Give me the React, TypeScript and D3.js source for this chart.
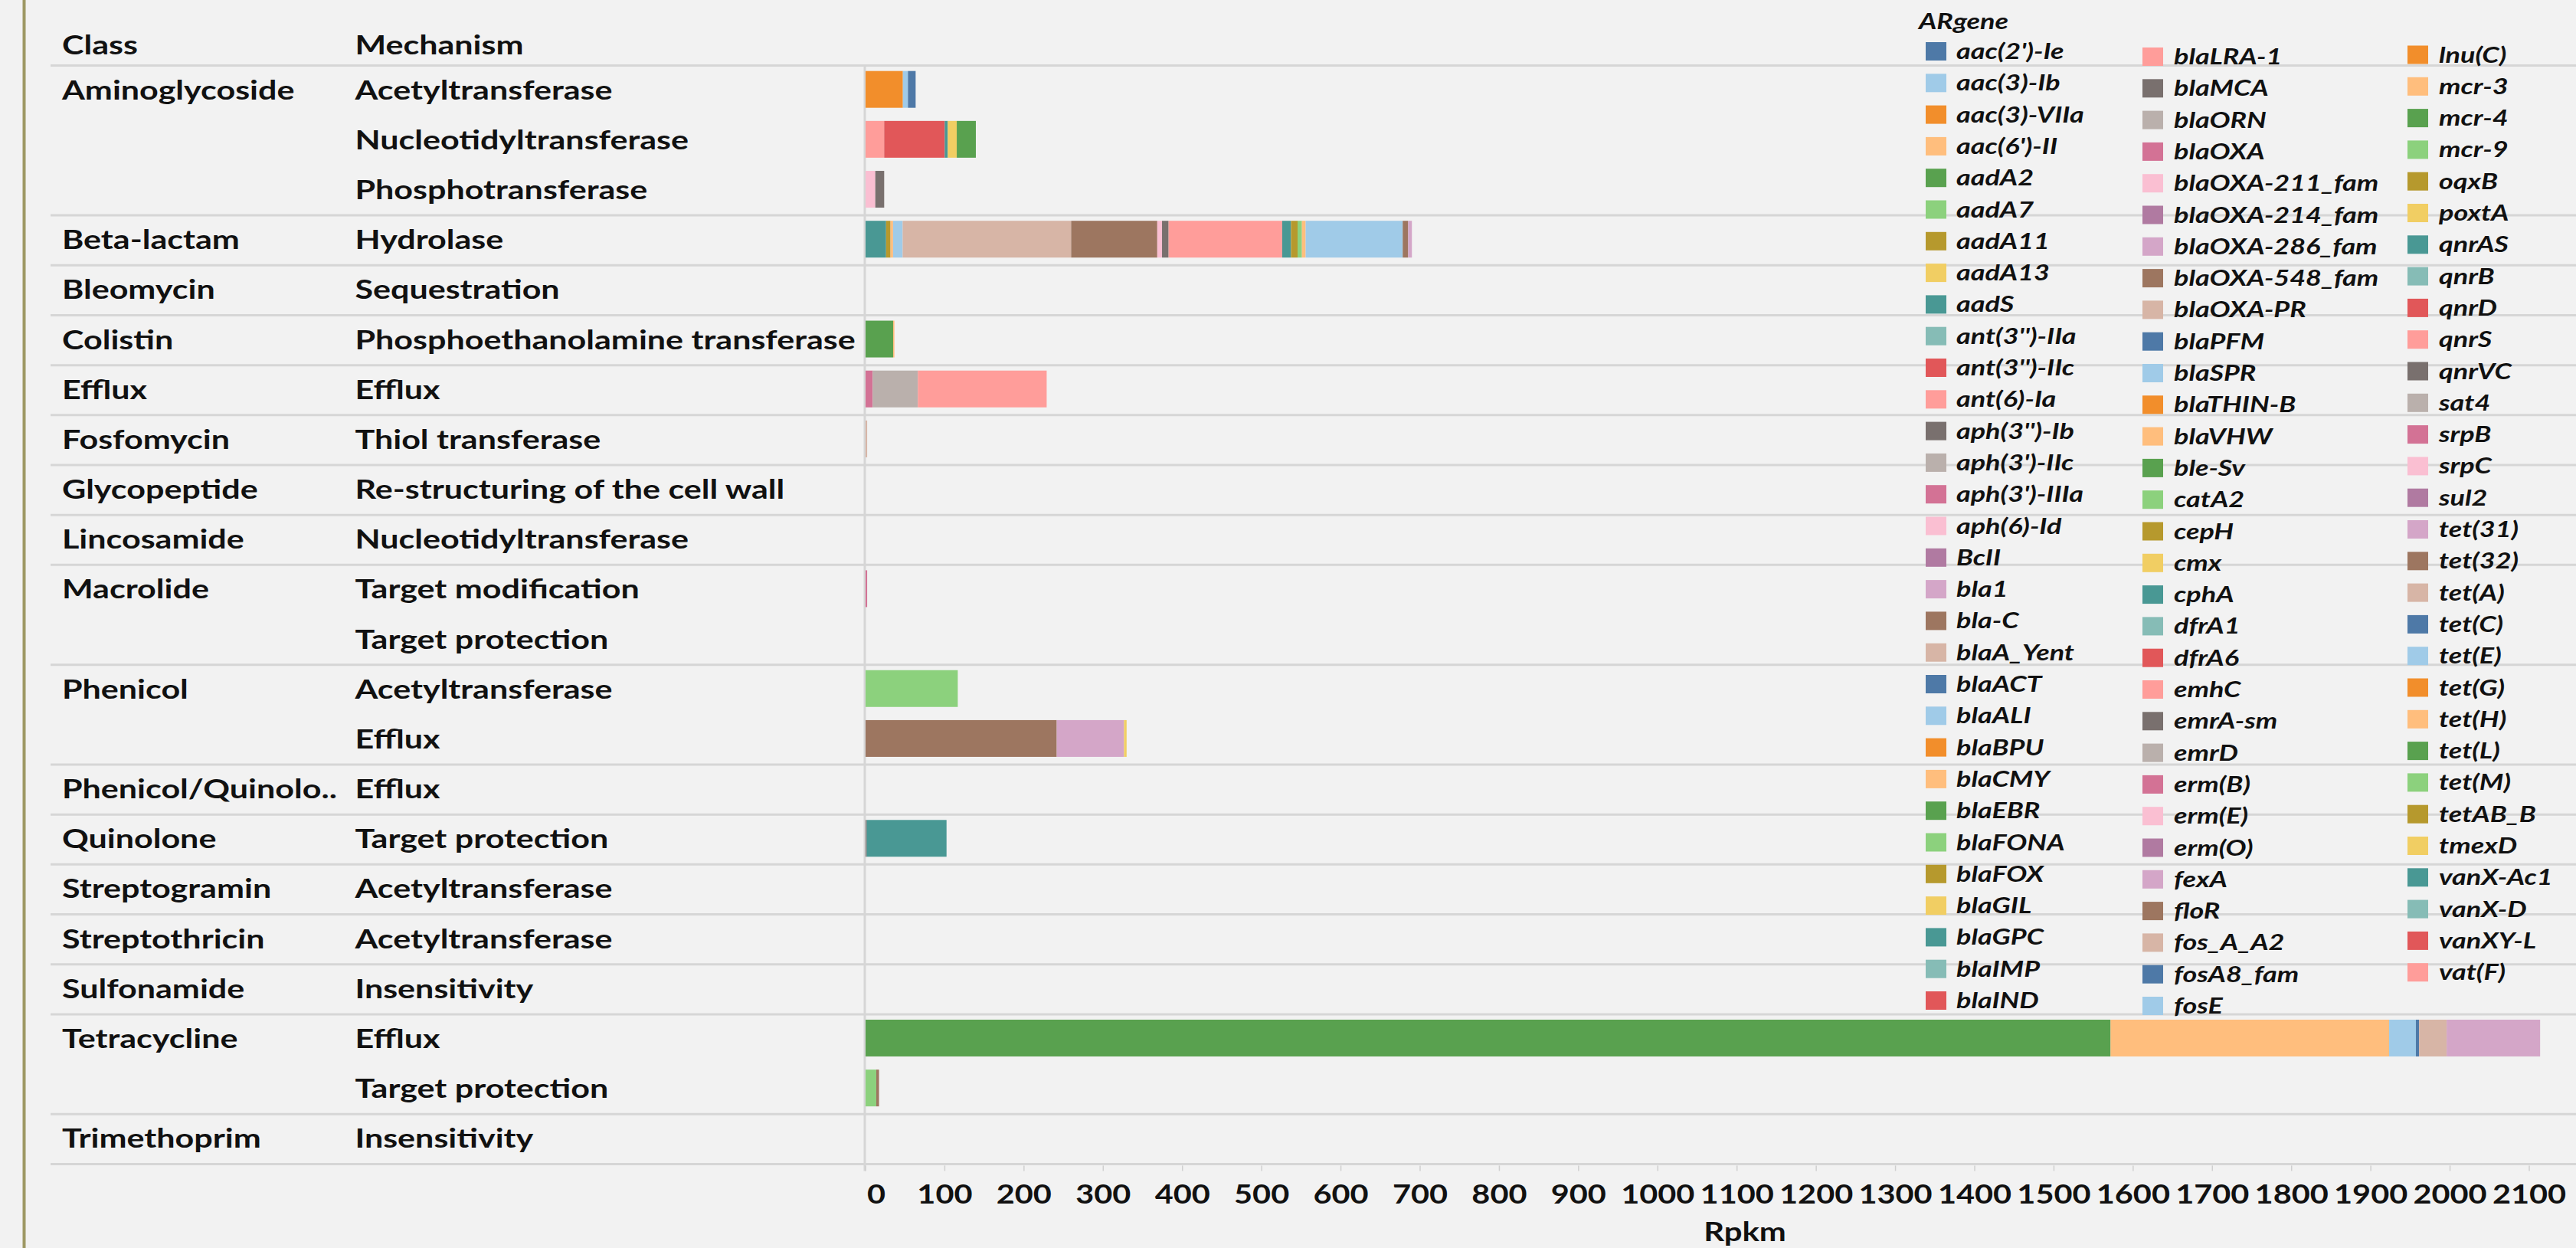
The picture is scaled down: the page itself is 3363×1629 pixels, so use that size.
import React from "react";
import * as d3 from "d3";

const W = 3363;
const H = 1629;

// ---- categories ----
const classLabels = [
  "Aminoglycoside", "", "", "Beta-lactam", "Bleomycin", "Colistin", "Efflux", "Fosfomycin",
  "Glycopeptide", "Lincosamide", "Macrolide", "", "Phenicol", "", "Phenicol/Quinolo..",
  "Quinolone", "Streptogramin", "Streptothricin", "Sulfonamide", "Tetracycline", "", "Trimethoprim",
];
const mechanismLabels = [
  "Acetyltransferase", "Nucleotidyltransferase", "Phosphotransferase", "Hydrolase", "Sequestration",
  "Phosphoethanolamine transferase", "Efflux", "Thiol transferase", "Re-structuring of the cell wall",
  "Nucleotidyltransferase", "Target modification", "Target protection", "Acetyltransferase", "Efflux",
  "Efflux", "Target protection", "Acetyltransferase", "Acetyltransferase", "Insensitivity", "Efflux",
  "Target protection", "Insensitivity",
];

// ---- legend genes (in legend order) ----
const genes = [
  "aac(2')-Ie", "aac(3)-Ib", "aac(3)-VIIa", "aac(6')-II", "aadA2", "aadA7", "aadA11", "aadA13", "aadS",
  "ant(3'')-IIa", "ant(3'')-IIc", "ant(6)-Ia", "aph(3'')-Ib", "aph(3')-IIc", "aph(3')-IIIa", "aph(6)-Id",
  "BcII", "bla1", "bla-C", "blaA_Yent", "blaACT", "blaALI", "blaBPU", "blaCMY", "blaEBR", "blaFONA",
  "blaFOX", "blaGIL", "blaGPC", "blaIMP", "blaIND",
  "blaLRA-1", "blaMCA", "blaORN", "blaOXA", "blaOXA-211_fam", "blaOXA-214_fam", "blaOXA-286_fam",
  "blaOXA-548_fam", "blaOXA-PR", "blaPFM", "blaSPR", "blaTHIN-B", "blaVHW", "ble-Sv", "catA2", "cepH",
  "cmx", "cphA", "dfrA1", "dfrA6", "emhC", "emrA-sm", "emrD", "erm(B)", "erm(E)", "erm(O)", "fexA",
  "floR", "fos_A_A2", "fosA8_fam", "fosE",
  "lnu(C)", "mcr-3", "mcr-4", "mcr-9", "oqxB", "poxtA", "qnrAS", "qnrB", "qnrD", "qnrS", "qnrVC",
  "sat4", "srpB", "srpC", "sul2", "tet(31)", "tet(32)", "tet(A)", "tet(C)", "tet(E)", "tet(G)",
  "tet(H)", "tet(L)", "tet(M)", "tetAB_B", "tmexD", "vanX-Ac1", "vanX-D", "vanXY-L", "vat(F)",
];
const legendColumnSizes = [31, 31, 30];

const tableau20 = [
  "#4E79A7", "#A0CBE8", "#F28E2B", "#FFBE7D", "#59A14F", "#8CD17D", "#B6992D", "#F1CE63", "#499894", "#86BCB6",
  "#E15759", "#FF9D9A", "#79706E", "#BAB0AC", "#D37295", "#FABFD2", "#B07AA1", "#D4A6C8", "#9D7660", "#D7B5A6",
];

// ---- values (Rpkm) per row ----
const aminoAcetyl: [string, number][] = [["aac(2')-Ie", 9.7], ["aac(3)-Ib", 6.4], ["aac(3)-VIIa", 47.1]];
const aminoNucleotidyl: [string, number][] = [
  ["aadA2", 24.1], ["aadA13", 11.3], ["aadS", 3.9], ["ant(3'')-IIc", 76.4], ["ant(6)-Ia", 23.5],
];
const aminoPhospho: [string, number][] = [["aph(3'')-Ib", 11.2], ["aph(6)-Id", 12.3]];
const betaHydrolase: [string, number][] = [
  ["bla1", 4.7], ["bla-C", 6.9], ["blaALI", 122.5], ["blaCMY", 4.7], ["blaFONA", 5.5], ["blaFOX", 8.3],
  ["blaGPC", 11.1], ["blaLRA-1", 143.4], ["blaMCA", 8.3], ["blaOXA-211_fam", 6.0], ["blaOXA-548_fam", 108.7],
  ["blaOXA-PR", 212.7], ["blaSPR", 12.1], ["blaVHW", 3.2], ["cepH", 5.6], ["cphA", 25.9],
];
const bleoSequestration: [string, number][] = [];
const colistinPEA: [string, number][] = [["mcr-3", 1.6], ["mcr-4", 34.8]];
const effluxEfflux: [string, number][] = [["emhC", 162.6], ["emrD", 57.0], ["srpB", 9.0]];
const fosfoThiol: [string, number][] = [["fos_A_A2", 2.0]];
const glycoRestructuring: [string, number][] = [];
const lincoNucleotidyl: [string, number][] = [];
const macroTargetMod: [string, number][] = [["erm(B)", 2.0]];
const macroTargetProt: [string, number][] = [];
const phenicolAcetyl: [string, number][] = [["catA2", 116.4]];
const phenicolEfflux: [string, number][] = [["cmx", 3.3], ["fexA", 84.9], ["floR", 241.3]];
const phenQuinEfflux: [string, number][] = [];
const quinoloneTargetProt: [string, number][] = [["qnrAS", 100.7], ["qnrVC", 1.5]];
const streptograminAcetyl: [string, number][] = [];
const streptothricinAcetyl: [string, number][] = [];
const sulfonamideInsens: [string, number][] = [];
const tetraEfflux: [string, number][] = [
  ["tet(31)", 118.0], ["tet(A)", 34.8], ["tet(C)", 4.0], ["tet(E)", 33.8], ["tet(H)", 351.6], ["tet(L)", 1571.5],
];
const tetraTargetProt: [string, number][] = [["tet(32)", 3.5], ["tet(M)", 13.5]];
const trimethoprimInsens: [string, number][] = [];

const rowValues = [
  aminoAcetyl, aminoNucleotidyl, aminoPhospho, betaHydrolase, bleoSequestration, colistinPEA,
  effluxEfflux, fosfoThiol, glycoRestructuring, lincoNucleotidyl, macroTargetMod, macroTargetProt,
  phenicolAcetyl, phenicolEfflux, phenQuinEfflux, quinoloneTargetProt, streptograminAcetyl,
  streptothricinAcetyl, sulfonamideInsens, tetraEfflux, tetraTargetProt, trimethoprimInsens,
];

const xTicks = [0, 100, 200, 300, 400, 500, 600, 700, 800, 900, 1000, 1100, 1200, 1300, 1400, 1500, 1600, 1700, 1800, 1900, 2000, 2100];

// ---- layout ----
const FONT = "Lato, 'Open Sans', sans-serif";
const PLOT_TOP = 85.6;
const PLOT_BOTTOM = 1519.4;
const BAR_H = 48;

export default function App() {
  const x = d3.scaleLinear().domain([0, 2100]).range([1130, 3302]);
  const y = d3.scaleBand<number>().domain(d3.range(classLabels.length)).range([PLOT_TOP, PLOT_BOTTOM]);
  const bw = y.bandwidth();
  const color = d3.scaleOrdinal<string, string>(genes, genes.map((_, i) => tableau20[i % 20]));
  const geneIndex = new Map(genes.map((g, i) => [g, i]));

  // stacked segments: reverse legend order from left to right
  const segments: { row: number; gene: string; x0: number; x1: number }[] = [];
  rowValues.forEach((vals, row) => {
    const sorted = [...vals].sort((a, b) => (geneIndex.get(b[0])! - geneIndex.get(a[0])!));
    const keys = sorted.map((d) => d[0]);
    const datum: Record<string, number> = {};
    sorted.forEach(([g, v]) => (datum[g] = v));
    const stacked = d3.stack<Record<string, number>>().keys(keys)([datum]);
    stacked.forEach((s) => segments.push({ row, gene: s.key, x0: s[0][0], x1: s[0][1] }));
  });

  const n = classLabels.length;
  const dividerRows = d3.range(n).filter((i) => i === n - 1 || classLabels[i + 1] !== "");

  const stretch = (tx: number, ty: number, sx: number) => `translate(${tx},${ty}) scale(${sx},1)`;
  const LSX = 1.23; // row labels
  const ASX = 1.22; // axis
  const GSX = 1.24; // legend

  // legend layout
  const legendCols = [
    { swatchX: 2514, textX: 2554, y0: 67 },
    { swatchX: 2797, textX: 2838, y0: 74 },
    { swatchX: 3143, textX: 3184, y0: 71.5 },
  ];
  const legendStep = 41.3;
  const legendItems: { gene: string; col: number; idx: number }[] = [];
  let start = 0;
  legendColumnSizes.forEach((size, col) => {
    for (let i = 0; i < size; i++) legendItems.push({ gene: genes[start + i], col, idx: i });
    start += size;
  });

  return (
    <svg
      width={W}
      height={H}
      viewBox={`0 0 ${W} ${H}`}
      style={{ position: "absolute", left: 0, top: 0, display: "block" }}
      fontFamily={FONT}
    >
      <rect x={0} y={0} width={W} height={H} fill="#F2F2F2" />
      {/* left border */}
      <rect x={29.5} y={0} width={4} height={H} fill="#9E9863" />

      {/* header */}
      <text transform={stretch(81, 71, LSX)} fontSize={35} fontWeight={700} fill="#111">Class</text>
      <text transform={stretch(463.5, 71, LSX)} fontSize={35} fontWeight={700} fill="#111">Mechanism</text>

      {/* header line and group dividers */}
      <line x1={66} x2={W} y1={PLOT_TOP} y2={PLOT_TOP} stroke="#D6D6D6" strokeWidth={3} />
      {dividerRows.map((i) => (
        <line key={`d${i}`} x1={66} x2={W} y1={y(i)! + bw} y2={y(i)! + bw} stroke="#D6D6D6" strokeWidth={3} />
      ))}

      {/* zero line */}
      <line x1={x(0) - 1} x2={x(0) - 1} y1={PLOT_TOP} y2={PLOT_BOTTOM + 9} stroke="#D6D6D6" strokeWidth={3} />

      {/* bars */}
      {segments.map((s, i) => (
        <rect
          key={`s${i}`}
          x={x(s.x0)}
          y={y(s.row)! + (bw - BAR_H) / 2 - 1.5}
          width={Math.max(0, x(s.x1) - x(s.x0))}
          height={BAR_H}
          fill={color(s.gene)}
        />
      ))}

      {/* row labels */}
      {classLabels.map((c, i) =>
        c ? (
          <text key={`c${i}`} transform={stretch(81, y(i)! + bw / 2 + 11.5, LSX)} fontSize={35} fontWeight={700} fill="#111">
            {c}
          </text>
        ) : null
      )}
      {mechanismLabels.map((m, i) => (
        <text key={`m${i}`} transform={stretch(463.5, y(i)! + bw / 2 + 11.5, LSX)} fontSize={35} fontWeight={700} fill="#111">
          {m}
        </text>
      ))}

      {/* x axis */}
      {xTicks.map((t) => (
        <line key={`t${t}`} x1={x(t)} x2={x(t)} y1={PLOT_BOTTOM + 2} y2={PLOT_BOTTOM + 9} stroke="#CFCFCF" strokeWidth={1.5} />
      ))}
      {xTicks.map((t, i) => (
        <text
          key={`tl${t}`}
          transform={stretch(i === 0 ? x(t) + 2 : x(t), 1570.5, ASX)}
          textAnchor={i === 0 ? "start" : "middle"}
          fontSize={34}
          fontWeight={700}
          fill="#111"
        >
          {t}
        </text>
      ))}
      <text transform={stretch(2278, 1620, LSX)} textAnchor="middle" fontSize={34} fontWeight={700} fill="#111">
        Rpkm
      </text>

      {/* legend */}
      <text transform={stretch(2505, 38, GSX)} fontSize={29} fontWeight={700} fontStyle="italic" fill="#111">
        ARgene
      </text>
      {legendItems.map((it) => {
        const col = legendCols[it.col];
        const cy = col.y0 + it.idx * legendStep;
        return (
          <g key={`l${it.gene}`}>
            <rect x={col.swatchX} y={cy - 12} width={27} height={24} fill={color(it.gene)} />
            <text transform={stretch(col.textX, cy + 10, GSX)} fontSize={29} fontWeight={700} fontStyle="italic" fill="#111">
              {it.gene}
            </text>
          </g>
        );
      })}
    </svg>
  );
}
